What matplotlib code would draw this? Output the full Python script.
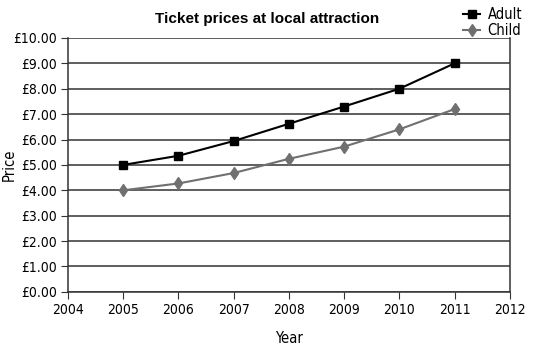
import matplotlib
matplotlib.use("Agg")
import matplotlib.pyplot as plt
from matplotlib.ticker import FuncFormatter

years = [2005, 2006, 2007, 2008, 2009, 2010, 2011]
adult = [5.00, 5.36, 5.94, 6.62, 7.30, 8.00, 9.00]
child = [4.00, 4.27, 4.68, 5.24, 5.72, 6.40, 7.20]
xticks = list(range(2004, 2013))
yticks = list(range(0, 11))

plt.rcParams['font.family'] = ['DejaVu Sans']
plt.rcParams['font.stretch'] = 'condensed'

fig = plt.figure(figsize=(5.35, 3.45), dpi=100)
ax = fig.add_axes([0.127, 0.154, 0.826, 0.736])

ax.plot(years, adult, color='black', lw=1.5, marker='s', ms=5.5, label='Adult')
ax.plot(years, child, color='#707070', lw=1.5, marker='d', ms=6.5, label='Child')

ax.set_xlim(2004, 2012)
ax.set_ylim(0, 10)
ax.set_xticks(xticks)
ax.set_yticks(yticks)
ax.yaxis.set_major_formatter(FuncFormatter(lambda v, p: f"£{v:.2f}"))
ax.grid(axis='y', color='#333333', lw=1.1)
ax.set_axisbelow(True)
for s in ['left', 'right', 'bottom']:
    ax.spines[s].set_color('#333333')
    ax.spines[s].set_linewidth(1.1)
ax.spines['top'].set_visible(False)
ax.tick_params(axis='both', direction='out', length=5, color='#333333', labelsize=10, pad=3)
ax.set_xlabel('Year', fontsize=10.5, labelpad=10)
ax.set_ylabel('Price', fontsize=10.5)
ax.yaxis.set_label_coords(-0.115, 0.5)
fig.text(0.5, 0.945, 'Ticket prices at local attraction', ha='center', va='center',
         fontsize=11, fontweight='bold', fontstretch='normal', family=['Liberation Sans', 'DejaVu Sans'])
fig.legend(loc='upper right', bbox_to_anchor=(0.995, 1.01), frameon=False, fontsize=10.5,
           handlelength=1.2, handletextpad=0.5, labelspacing=0.1, borderpad=0.2)

fig.savefig('out.png', dpi=100)
